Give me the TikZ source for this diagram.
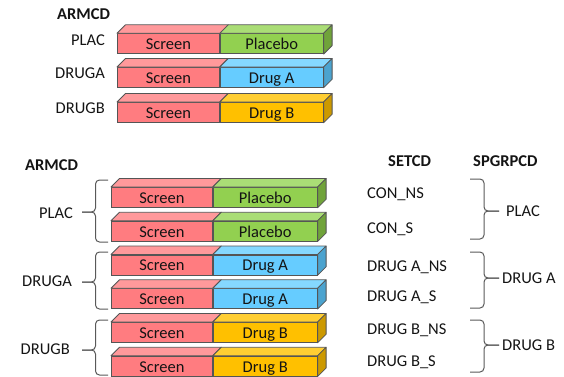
\documentclass[tikz,border=0pt]{standalone}
\usepackage{fontspec}
\setmainfont{Carlito}
\usetikzlibrary{calc}
\definecolor{scrF}{RGB}{255,124,128}
\definecolor{scrT}{RGB}{255,153,155}
\definecolor{plaF}{RGB}{146,208,80}
\definecolor{plaT}{RGB}{170,221,118}
\definecolor{plaS}{RGB}{112,163,58}
\definecolor{daF}{RGB}{102,204,255}
\definecolor{daT}{RGB}{133,216,255}
\definecolor{daS}{RGB}{75,163,207}
\definecolor{dbF}{RGB}{255,192,0}
\definecolor{dbT}{RGB}{255,206,51}
\definecolor{dbS}{RGB}{204,153,0}
\definecolor{edgeC}{RGB}{85,85,85}
\definecolor{txtC}{RGB}{20,20,20}
\definecolor{braceC}{RGB}{89,89,89}
\tikzset{
 face/.style={draw=edgeC, line width=0.8pt, inner sep=0pt, minimum height=20pt,
   text height=12pt, text depth=0pt, font=\fontsize{16.5}{18}\selectfont, text=txtC, anchor=north west},
 edge3d/.style={draw=edgeC, line width=0.8pt, line join=round},
 lbl/.style={font=\fontsize{16.5}{18}\selectfont, text=txtC, inner sep=0pt},
 head/.style={lbl, font=\fontsize{16.5}{18}\selectfont\bfseries},
 brace/.style={draw=braceC, line width=1pt, rounded corners=4pt},
}
\newcommand\drawbar[7]{%
 \node[face, fill=scrF, minimum width=#4pt] (#1s) at (#2,#3) {Screen};
 \node[face, fill=#6F, minimum width=#5pt] (#1d) at (#1s.north east) {#7};
 \path[edge3d, fill=scrT] (#1s.north west) -- ++(8.5,-8.5) -- ($(#1s.north east)+(8.5,-8.5)$) -- (#1s.north east) -- cycle;
 \path[edge3d, fill=#6T] (#1d.north west) -- ++(8.5,-8.5) -- ($(#1d.north east)+(8.5,-8.5)$) -- (#1d.north east) -- cycle;
 \path[edge3d, fill=#6S] (#1d.north east) -- ++(8.5,-8.5) -- ($(#1d.south east)+(8.5,-8.5)$) -- (#1d.south east) -- cycle;
}
\newcommand\curly[6]{%
 \draw[brace] (#1,#4) -- (#2,#4) -- (#2,#5) -- (#3,#5);
 \draw[brace] (#3,#5) -- (#2,#5) -- (#2,#6) -- (#1,#6);
}
\begin{document}
\begin{tikzpicture}[x=1pt, y=-1pt]
\useasboundingbox (0,0) rectangle (564,376);
% top section
\node[head, anchor=base west] (h1) at (57,19) {ARMCD};
\node[lbl, anchor=base east] (p1) at (105,45.5) {PLAC};
\node[lbl, anchor=base east] (a1) at (105,78.3) {DRUGA};
\node[lbl, anchor=base east] (b1) at (105,113) {DRUGB};
\drawbar{t1}{117}{33.3}{102}{103}{pla}{Placebo}
\drawbar{t2}{117}{67}{102}{103}{da}{Drug A}
\drawbar{t3}{117}{102}{102}{103}{db}{Drug B}
% bottom section
\node[head, anchor=base west] (h2) at (25,170.5) {ARMCD};
\node[head, anchor=base west] (h3) at (388,166) {SETCD};
\node[head, anchor=base west] (h4) at (473,166) {SPGRPCD};
\node[lbl, anchor=base east] (p2) at (73,218) {PLAC};
\node[lbl, anchor=base east] (a2) at (72,286.5) {DRUGA};
\node[lbl, anchor=base east] (b2) at (70,354) {DRUGB};
\drawbar{u1}{111}{187}{101}{104}{pla}{Placebo}
\drawbar{u2}{111}{220.75}{101}{104}{pla}{Placebo}
\drawbar{u3}{111}{254.5}{101}{104}{da}{Drug A}
\drawbar{u4}{111}{288.25}{101}{104}{da}{Drug A}
\drawbar{u5}{111}{322}{101}{104}{db}{Drug B}
\drawbar{u6}{111}{355.75}{101}{104}{db}{Drug B}
\node[lbl, anchor=base west] (s1) at (367,198.3) {CON\_NS};
\node[lbl, anchor=base west] (s2) at (367,233.3) {CON\_S};
\node[lbl, anchor=base west] (s3) at (367,271.7) {DRUG A\_NS};
\node[lbl, anchor=base west] (s4) at (367,301.7) {DRUG A\_S};
\node[lbl, anchor=base west] (s5) at (367,334.3) {DRUG B\_NS};
\node[lbl, anchor=base west] (s6) at (367,366.7) {DRUG B\_S};
\node[lbl, anchor=base west] (g1) at (506,216) {PLAC};
\node[lbl, anchor=base west] (g2) at (502,283.3) {DRUG A};
\node[lbl, anchor=base west] (g3) at (502,350) {DRUG B};
% braces
\curly{108}{95.5}{82}{180}{212}{242}
\curly{108}{95.5}{82}{252}{282}{309}
\curly{108}{95.5}{82}{320}{350}{375}
\curly{470}{484}{499}{179}{211}{239}
\curly{470}{484}{499}{252}{278}{308}
\curly{470}{484}{499}{320}{345}{372}
\end{tikzpicture}
\end{document}
